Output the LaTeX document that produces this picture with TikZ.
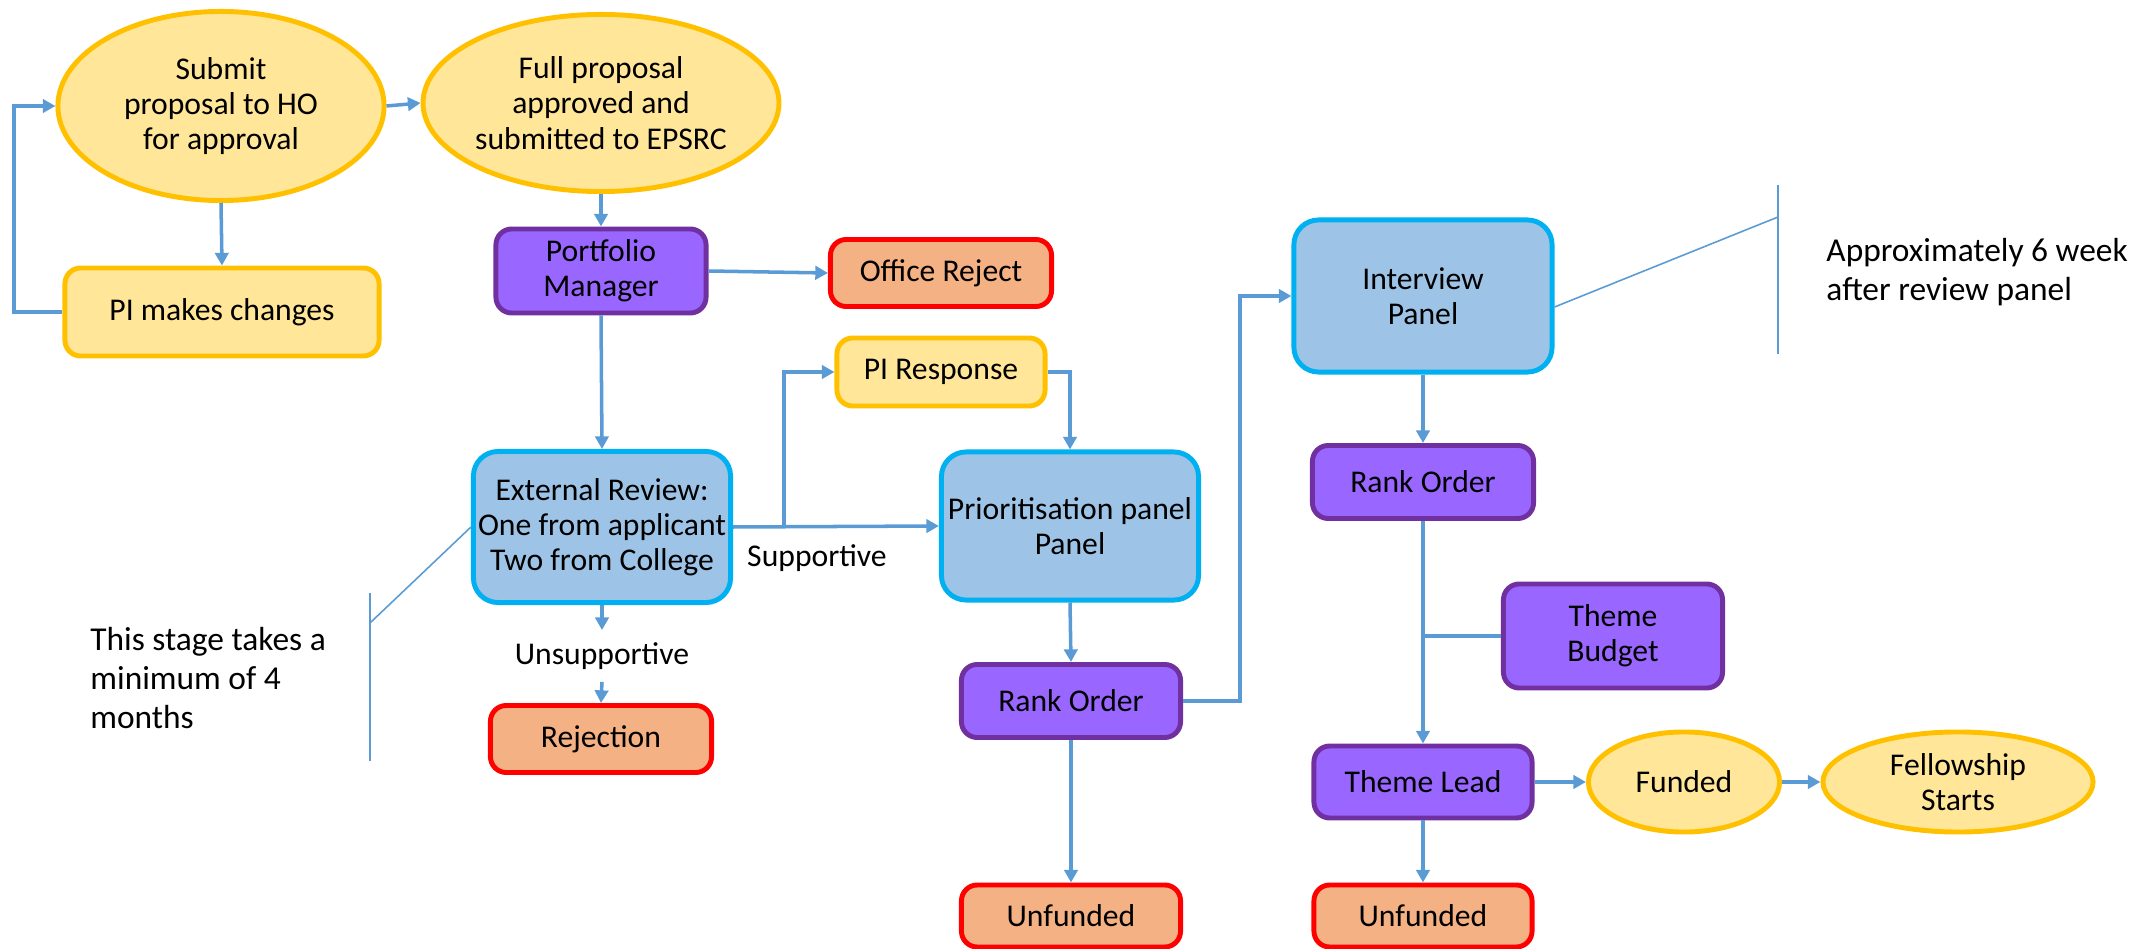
\documentclass[tikz,border=0pt]{standalone}
\usepackage{fontspec}
\setmainfont{Carlito}
\usetikzlibrary{arrows.meta,shapes.geometric}
\definecolor{ylwfill}{HTML}{FFE699}
\definecolor{ylwline}{HTML}{FFC000}
\definecolor{pplfill}{HTML}{9966FF}
\definecolor{pplline}{HTML}{7030A0}
\definecolor{blufill}{HTML}{9DC3E6}
\definecolor{bluline}{HTML}{00B0F0}
\definecolor{redfill}{HTML}{F4B183}
\definecolor{redline}{HTML}{FF0000}
\definecolor{arrc}{HTML}{5B9BD5}
\begin{document}
\begin{tikzpicture}[x=0.01cm, y=-0.01cm,
    txt/.style={font=\fontsize{9}{10}\selectfont, align=center},
    box/.style={txt, draw, rounded corners=4.5pt, line width=1.4pt, inner sep=1pt},
    oval/.style={txt, draw, ellipse, line width=1.4pt, inner sep=0pt, fill=ylwfill, draw=ylwline},
    ylw/.style={box, fill=ylwfill, draw=ylwline},
    ppl/.style={box, fill=pplfill, draw=pplline},
    blu/.style={box, fill=blufill, draw=bluline, rounded corners=7pt},
    red/.style={box, fill=redfill, draw=redline},
    arr/.style={-{Triangle[length=3.6pt,width=3.8pt]}, line width=1pt, arrc},
    link/.style={line width=1pt, arrc},
    note/.style={line width=0.45pt, arrc},
    notetxt/.style={font=\fontsize{9.5}{11}\selectfont, align=left, anchor=west},
  ]
    \useasboundingbox (0,0) rectangle (2147,949);

    % Proposal stage
    \node[oval, minimum width=3.26cm, minimum height=1.89cm] (sub)  at (221,106) {Submit\\proposal to HO\\for approval};
    \node[oval, minimum width=2.97cm, minimum height=1.77cm] (full) at (601,103) {Full proposal\\approved and\\submitted to EPSRC};
    \node[ylw, minimum width=3.14cm, minimum height=0.88cm] (pic) at (222,312) {PI makes changes};
    \node[ppl, minimum width=2.10cm, minimum height=0.84cm] (pm)  at (601,271) {Portfolio\\Manager};
    \node[red, minimum width=2.21cm, minimum height=0.67cm] (orj) at (941,273) {Office Reject};
    \coordinate (lp) at (14,312);

    % Review stage
    \node[blu, minimum width=2.57cm, minimum height=1.51cm] (er)   at (602,527) {External Review:\\One from applicant\\Two from College};
    \node[ylw, minimum width=2.08cm, minimum height=0.68cm] (pir)  at (941,372) {PI Response};
    \node[blu, minimum width=2.57cm, minimum height=1.48cm] (prio) at (1070,526) {Prioritisation panel\\Panel};
    \node[txt] (uns) at (602,656) {Unsupportive};
    \node[txt] (sup) at (817,558) {Supportive};
    \node[red, minimum width=2.21cm, minimum height=0.67cm] (rej) at (601,739) {Rejection};
    \node[ppl, minimum width=2.19cm, minimum height=0.73cm] (ro1) at (1071,701) {Rank Order};
    \node[red, minimum width=2.19cm, minimum height=0.62cm] (un1) at (1071,916) {Unfunded};
    \coordinate (sp) at (784,527);

    % Interview stage
    \node[blu, minimum width=2.58cm, minimum height=1.52cm] (iv)  at (1423,296) {Interview\\Panel};
    \node[ppl, minimum width=2.21cm, minimum height=0.73cm] (ro2) at (1423,482) {Rank Order};
    \node[ppl, minimum width=2.19cm, minimum height=1.04cm] (tb)  at (1613,636) {Theme\\Budget};
    \node[ppl, minimum width=2.18cm, minimum height=0.72cm] (tl)  at (1423,782) {Theme Lead};
    \node[red, minimum width=2.18cm, minimum height=0.62cm] (un2) at (1423,916) {Unfunded};
    \node[oval, minimum width=1.91cm, minimum height=1.00cm] (fund) at (1684,782) {Funded};
    \node[oval, minimum width=2.70cm, minimum height=1.00cm] (fs)   at (1958,782) {Fellowship\\Starts};

    % Arrows
    \draw[arr] (pic.west) -- (lp) |- (sub.west);
    \draw[arr] (sub.south) -- (pic.north);
    \draw[arr] (sub.east) -- (full.west);
    \draw[arr] (full.south) -- (pm.north);
    \draw[arr] (pm.east) -- (orj.west);
    \draw[arr] (pm.south) -- (er.north);
    \draw[arr] (er.east) -- (prio.west);
    \draw[arr] (sp) |- (pir.west);
    \draw[arr] (pir.east) -| (prio.north);
    \draw[arr] (er.south) -- (uns.north);
    \draw[arr] (uns.south) -- (rej.north);
    \draw[arr] (prio.south) -- (ro1.north);
    \draw[arr] (ro1.south) -- (un1.north);
    \draw[arr] (ro1.east) -- ++(57,0) |- (iv.west);
    \draw[arr] (iv.south) -- (ro2.north);
    \draw[arr] (ro2.south) -- (tl.north);
    \draw[link] (tb.west) -- (tb.west -| tl.north);
    \draw[arr] (tl.east) -- (fund.west);
    \draw[arr] (fund.east) -- (fs.west);
    \draw[arr] (tl.south) -- (un2.north);

    % Notes
    \coordinate (n1) at (370,623);
    \draw[note] (er.west) -- (n1);
    \draw[note] (370,593) -- (370,761);
    \node[notetxt] (n1t) at (78,678) {This stage takes a\\minimum of 4\\months};
    \coordinate (n2) at (1778,217);
    \draw[note] ([yshift=-0.11cm]iv.east) -- (n2);
    \draw[note] (1778,185) -- (1778,354);
    \node[notetxt] (n2t) at (1814,272) {Approximately 6 week\\after review panel};
  \end{tikzpicture}
\end{document}
